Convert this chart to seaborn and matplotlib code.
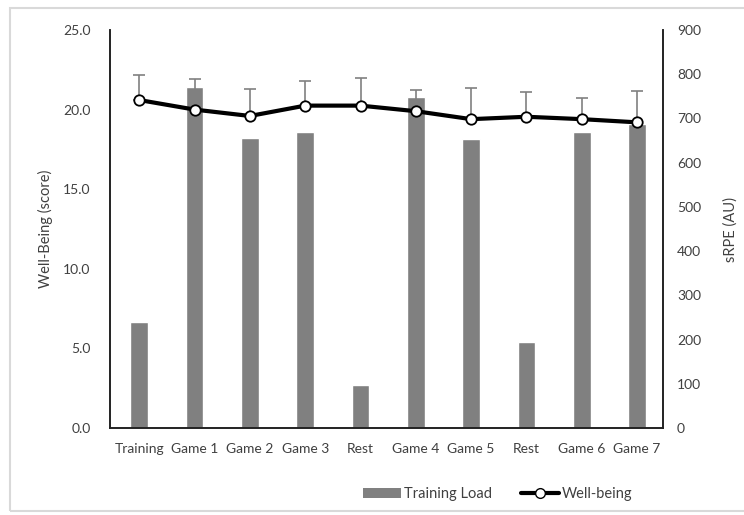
import numpy as np
import pandas as pd
import matplotlib
matplotlib.use("Agg")
import matplotlib.pyplot as plt
from matplotlib.patches import Rectangle, Patch
from matplotlib.lines import Line2D
import seaborn as sns

sessions = ["Training", "Game 1", "Game 2", "Game 3", "Rest",
            "Game 4", "Game 5", "Rest", "Game 6", "Game 7"]
srpe = [240, 772, 656, 670, 97, 749, 653, 195, 670, 688]
wellbeing = [20.6, 20.0, 19.6, 20.25, 20.25, 19.9, 19.4, 19.55, 19.4, 19.2]
wellbeing_sd = [1.57, 1.95, 1.67, 1.55, 1.72, 1.3, 1.93, 1.57, 1.3, 1.97]

left_ticks = [0, 5, 10, 15, 20, 25]
right_ticks = list(range(0, 1000, 100))

sns.set_theme(style="white")
plt.rcParams["font.family"] = ["Lato", "DejaVu Sans"]
text_col = "#404040"

df = pd.DataFrame({"pos": np.arange(len(sessions)), "session": sessions,
                   "srpe": srpe, "wb": wellbeing, "sd": wellbeing_sd})

fig = plt.figure(figsize=(7.44, 5.15), dpi=100)
fig.patch.set_facecolor("white")
fig.add_artist(Rectangle((10 / 744, 4 / 515), 740 / 744, 503 / 515,
                         transform=fig.transFigure, fill=False,
                         edgecolor="#d9d9d9", lw=1.5))

ax = fig.add_axes([110 / 744, 1 - 428 / 515, 553 / 744, 398 / 515])
# bars on the sRPE scale (right side)
sns.barplot(data=df, x="pos", y="srpe", color="#808080", saturation=1,
            width=0.32, ax=ax, zorder=2)

# well-being line on the score scale (left side)
ax2 = ax.twinx()
ax2.errorbar(df["pos"], df["wb"], yerr=[np.zeros(len(df)), df["sd"]],
             fmt="none", ecolor="#808080", elinewidth=1.2, capsize=4,
             capthick=1.2, zorder=2)
sns.lineplot(data=df, x="pos", y="wb", ax=ax2, color="black", lw=3,
             marker="o", markersize=7.5, markerfacecolor="white",
             markeredgecolor="black", markeredgewidth=1.3, zorder=3)

ax.set_ylim(0, 900)
ax.set_yticks(right_ticks)
ax.yaxis.tick_right()
ax.yaxis.set_label_position("right")
ax.set_ylabel("sRPE (AU)", fontsize=10.5, color=text_col, labelpad=16)
ax.set_xlim(-0.53, 9.47)
ax.set_xticks(df["pos"])
ax.set_xticklabels(sessions)
ax.set_xlabel("")

ax2.set_ylim(0, 25)
ax2.set_yticks(left_ticks)
ax2.set_yticklabels([f"{t:.1f}" for t in left_ticks])
ax2.yaxis.tick_left()
ax2.yaxis.set_label_position("left")
ax2.set_ylabel("Well-Being (score)", fontsize=10.5, color=text_col, labelpad=7)
ax2.set_xlabel("")
ax2.set_xlim(-0.53, 9.47)

for a in (ax, ax2):
    a.tick_params(axis="both", length=0, labelsize=10, colors=text_col, pad=11)
    a.spines["top"].set_visible(False)
    for s in ("left", "right", "bottom"):
        a.spines[s].set_color("#222222")
        a.spines[s].set_linewidth(1.2)
ax.tick_params(axis="y", pad=10)
ax2.tick_params(axis="y", pad=14)

handles = [Patch(facecolor="#808080", edgecolor="none"),
           Line2D([0], [0], color="black", lw=3, marker="o", markersize=7,
                  markerfacecolor="white", markeredgecolor="black")]
fig.legend(handles, ["Training Load", "Well-being"], loc="center",
           bbox_to_anchor=(0.669, 0.04), ncol=2, frameon=False,
           fontsize=10.5, labelcolor=text_col, handlelength=2.6,
           handletextpad=0.2, columnspacing=2.0)

fig.savefig("out.png", dpi=100, facecolor="white")
